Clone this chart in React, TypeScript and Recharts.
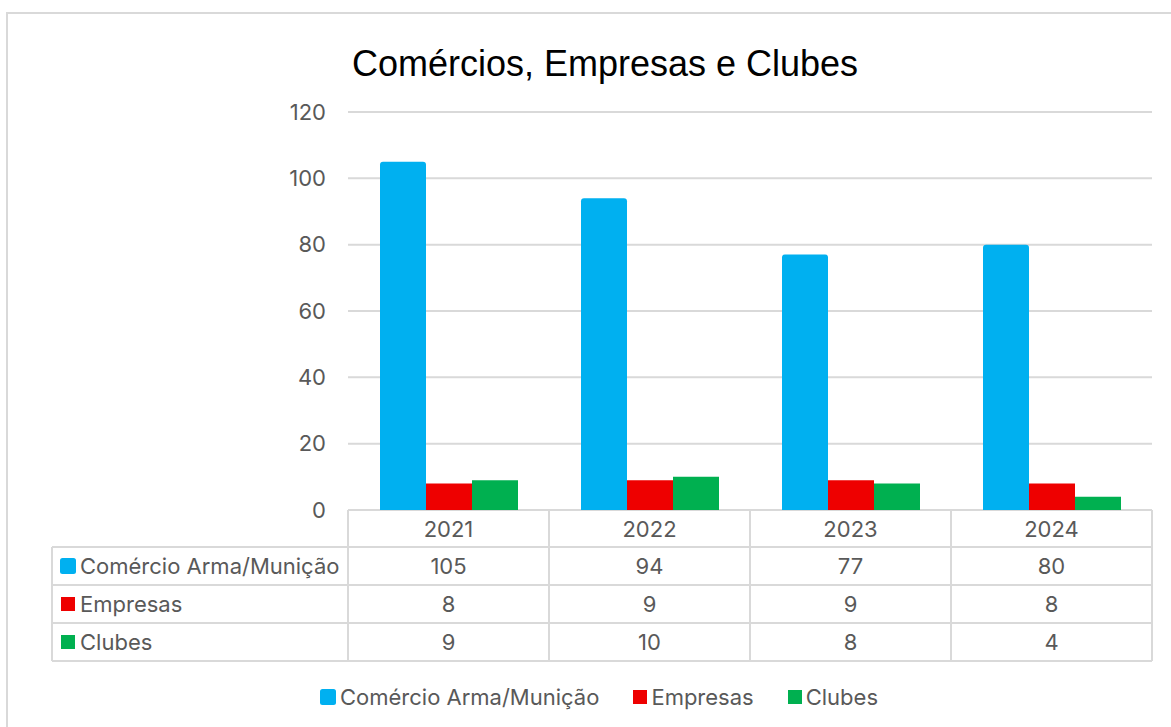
import React from 'react';
import { BarChart, Bar, XAxis, YAxis, CartesianGrid } from 'recharts';

const years = ['2021', '2022', '2023', '2024'];
const comercio = [105, 94, 77, 80];
const empresas = [8, 9, 9, 8];
const clubes = [9, 10, 8, 4];
const yTicks = [0, 20, 40, 60, 80, 100, 120];

const seriesNames = ['Comércio Arma/Munição', 'Empresas', 'Clubes'];
const seriesKeys = ['comercio', 'empresas', 'clubes'];
const seriesColors = ['#00B0F0', '#EE0000', '#00B050'];
const seriesValues = [comercio, empresas, clubes];

const data = years.map((year, i) => ({
  year,
  comercio: comercio[i],
  empresas: empresas[i],
  clubes: clubes[i],
}));

const W = 1171;
const H = 727;
const PLOT_LEFT = 348;
const PLOT_RIGHT = 1152;
const PLOT_TOP = 112;
const PLOT_BOTTOM = 510;
const ROW_H = 38;
const TABLE_LEFT = 52;
const GRID = '#d9d9d9';
const TXT = '#595959';
const FONT = 'Inter, "Open Sans", sans-serif';
const FS = 22;

function Swatch({ x, y, i }: { x: number; y: number; i: number }) {
  const s = i === 0 ? 16 : 14;
  return (
    <rect
      x={x + (i === 0 ? 0 : 1)}
      y={y - s / 2}
      width={s}
      height={s}
      rx={i === 0 ? 2.5 : 0}
      fill={seriesColors[i]}
    />
  );
}

function TableTick(props: any) {
  const { x, payload, index } = props;
  const colW = (PLOT_RIGHT - PLOT_LEFT) / years.length;
  const left = x - colW / 2;
  const right = x + colW / 2;
  const headerBottom = PLOT_BOTTOM + 37;
  const rowLines = [0, 1, 2, 3].map((k) => headerBottom + k * ROW_H);
  const tableBottom = rowLines[3];
  const els: React.ReactNode[] = [];
  els.push(<line key="vl" x1={left} x2={left} y1={PLOT_BOTTOM} y2={tableBottom} stroke={GRID} strokeWidth={2} />);
  if (index === years.length - 1) {
    els.push(<line key="vr" x1={right} x2={right} y1={PLOT_BOTTOM} y2={tableBottom} stroke={GRID} strokeWidth={2} />);
  }
  rowLines.forEach((ly, k) => {
    els.push(<line key={'h' + k} x1={left} x2={right} y1={ly} y2={ly} stroke={GRID} strokeWidth={2} />);
  });
  els.push(
    <text key="yr" x={x} y={PLOT_BOTTOM + 18.5} textAnchor="middle" dominantBaseline="central" fill={TXT} fontSize={FS} fontFamily={FONT}>
      {payload.value}
    </text>
  );
  seriesValues.forEach((vals, s) => {
    els.push(
      <text key={'v' + s} x={x} y={headerBottom + ROW_H * s + ROW_H / 2} textAnchor="middle" dominantBaseline="central" fill={TXT} fontSize={FS} fontFamily={FONT}>
        {vals[index]}
      </text>
    );
  });
  if (index === 0) {
    rowLines.forEach((ly, k) => {
      els.push(<line key={'lh' + k} x1={TABLE_LEFT} x2={left} y1={ly} y2={ly} stroke={GRID} strokeWidth={2} />);
    });
    els.push(<line key="lv" x1={TABLE_LEFT} x2={TABLE_LEFT} y1={headerBottom} y2={tableBottom} stroke={GRID} strokeWidth={2} />);
    seriesNames.forEach((name, s) => {
      const cy = headerBottom + ROW_H * s + ROW_H / 2;
      els.push(<Swatch key={'sw' + s} x={60} y={cy} i={s} />);
      els.push(
        <text key={'n' + s} x={80} y={cy} textAnchor="start" dominantBaseline="central" fill={TXT} fontSize={FS} fontFamily={FONT}>
          {name}
        </text>
      );
    });
  }
  return <g>{els}</g>;
}

export default function App() {
  return (
    <div style={{ position: 'absolute', left: 0, top: 0, width: W, height: H, background: '#fff', overflow: 'hidden' }}>
      <div
        style={{
          position: 'absolute',
          left: 6,
          top: 12,
          width: W + 20,
          height: H + 20,
          border: `2px solid ${GRID}`,
          boxSizing: 'border-box',
        }}
      />
      <div
        style={{
          position: 'absolute',
          left: 0,
          top: 38,
          width: 1210,
          textAlign: 'center',
          fontFamily: '"Liberation Sans", Arial, sans-serif',
          fontSize: 36,
          color: '#000',
          lineHeight: '52px',
        }}
      >
        Comércios, Empresas e Clubes
      </div>
      <div style={{ position: 'absolute', left: 0, top: 0 }}>
        <BarChart
          width={W}
          height={H}
          data={data}
          margin={{ top: PLOT_TOP, right: W - PLOT_RIGHT, bottom: 57, left: PLOT_LEFT - 60 }}
          barGap={0}
          barCategoryGap={32}
        >
          <CartesianGrid vertical={false} stroke={GRID} strokeWidth={2} />
          <XAxis
            dataKey="year"
            axisLine={false}
            tickLine={false}
            interval={0}
            height={160}
            tick={<TableTick />}
          />
          <YAxis
            width={60}
            domain={[0, 120]}
            ticks={yTicks}
            axisLine={false}
            tickLine={false}
            tickSize={0}
            tickMargin={22}
            tick={{ fill: TXT, fontSize: FS, fontFamily: FONT }}
          />
          {seriesKeys.map((k, i) => (
            <Bar
              key={k}
              dataKey={k}
              name={seriesNames[i]}
              fill={seriesColors[i]}
              radius={i === 0 ? [3, 3, 0, 0] : 0}
              isAnimationActive={false}
            />
          ))}
        </BarChart>
      </div>
      <div
        style={{
          position: 'absolute',
          left: 0,
          top: 684,
          width: 1198,
          display: 'flex',
          justifyContent: 'center',
          alignItems: 'center',
          gap: 34,
          fontFamily: FONT,
          fontSize: FS,
          color: TXT,
          lineHeight: '26px',
        }}
      >
        {seriesNames.map((name, i) => (
          <div key={name} style={{ display: 'flex', alignItems: 'center' }}>
            <span
              style={{
                display: 'inline-block',
                width: i === 0 ? 16 : 14,
                height: i === 0 ? 16 : 14,
                borderRadius: i === 0 ? 2.5 : 0,
                background: seriesColors[i],
                marginRight: 4,
              }}
            />
            <span>{name}</span>
          </div>
        ))}
      </div>
    </div>
  );
}
